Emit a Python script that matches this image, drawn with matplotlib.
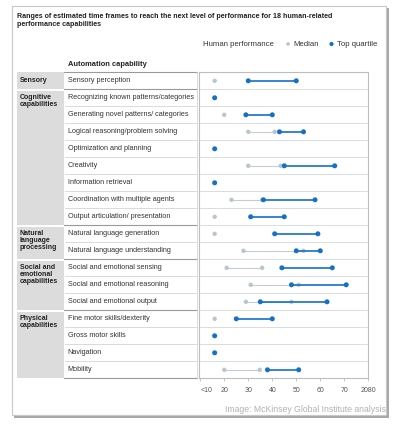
import matplotlib
matplotlib.use("Agg")
import matplotlib.pyplot as plt
from matplotlib.patches import Rectangle

# ---- data ----
capabilities = [
    "Sensory perception",
    "Recognizing known patterns/categories",
    "Generating novel patterns/ categories",
    "Logical reasoning/problem solving",
    "Optimization and planning",
    "Creativity",
    "Information retrieval",
    "Coordination with multiple agents",
    "Output articulation/ presentation",
    "Natural language generation",
    "Natural language understanding",
    "Social and emotional sensing",
    "Social and emotional reasoning",
    "Social and emotional output",
    "Fine motor skills/dexterity",
    "Gross motor skills",
    "Navigation",
    "Mobility",
]
groups = ["Sensory", "Cognitive\ncapabilities", "Natural\nlanguage\nprocessing",
          "Social and\nemotional\ncapabilities", "Physical\ncapabilities"]
group_sizes = [1, 8, 2, 3, 4]

# Median human performance: (start, end) or None
median_lo = [16, None, 20, 30, None, 30, None, 23, 16, 16, 28, 21, 31, 29, 16, None, None, 20]
median_hi = [16, None, 20, 41, None, 43.5, None, 35.8, 16, 16, 53, 35.8, 51, 48, 16, None, None, 34.8]
# Top quartile human performance
top_lo = [30, 16, 29, 43, 16, 45, 16, 36.3, 31, 41, 50, 44, 48, 35, 25, 16, 16, 38]
top_hi = [50, 16, 40, 53, 16, 66, 16, 57.8, 45, 59, 60, 65, 70.8, 62.8, 40, 16, 16, 51]

tick_vals = [10, 20, 30, 40, 50, 60, 70, 80]
tick_labels = ["<10", "20", "30", "40", "50", "60", "70", "2080"]

# ---- figure ----
W, H = 395, 424
fig = plt.figure(figsize=(W / 100, H / 100), dpi=100)
fig.patch.set_facecolor("white")
plt.rcParams["font.family"] = ["Liberation Sans", "DejaVu Sans"]

ov = fig.add_axes([0, 0, 1, 1], zorder=0)
ov.set_xlim(0, W)
ov.set_ylim(H, 0)
ov.axis("off")

# outer box with shadow
ov.add_patch(Rectangle((14, 8), 375, 410, facecolor="#a8a8a8", edgecolor="none"))
ov.add_patch(Rectangle((12, 6), 374, 409, facecolor="white", edgecolor="#c8c8c8", lw=0.8))

txt_dark = "#333333"
ov.text(17, 13, "Ranges of estimated time frames to reach the next level of performance for 18 human-related\nperformance capabilities",
        fontsize=5.1, color="#222222", va="top", ha="left", linespacing=1.15, fontweight="bold")

# legend
ov.text(203, 44, "Human performance", fontsize=5.6, color="#333333", va="center", ha="left")
ov.scatter([288], [44], s=7, color="#b8c6cf", zorder=3, edgecolors="none")
ov.text(293, 44, "Median", fontsize=5.6, color="#333333", va="center", ha="left")
ov.scatter([331.5], [44], s=9, color="#1570c8", zorder=3, edgecolors="none")
ov.text(337, 44, "Top quartile", fontsize=5.6, color="#333333", va="center", ha="left")

ov.text(68, 65, "Automation capability", fontsize=5.4, color="#222222", va="center", ha="left",
        fontweight="bold")

row_top = 72.3
row_h = 17.0
cat_x0, cat_x1 = 16.7, 64.3
lab_x0, lab_x1 = 64.3, 196.7

# category cells
start = 0
for g, n in zip(groups, group_sizes):
    y0 = row_top + start * row_h
    ov.add_patch(Rectangle((cat_x0, y0 + (1.2 if start else 0)), cat_x1 - cat_x0,
                           n * row_h - (1.2 if start else 0),
                           facecolor="#dcdcdc", edgecolor="none"))
    ov.text(cat_x0 + 3, y0 + 4.5, g, fontsize=5.0, fontweight="bold", color="#222222",
            va="top", ha="left", linespacing=1.05)
    start += n

# label rows
group_bounds = set()
acc = 0
for n in group_sizes:
    acc += n
    group_bounds.add(acc)
for i, lab in enumerate(capabilities):
    yc = row_top + (i + 0.5) * row_h
    ov.text(lab_x0 + 3.5, yc, lab, fontsize=5.2, color=txt_dark, va="center", ha="left")
ov.plot([lab_x0, lab_x1], [row_top, row_top], color="#9a9a9a", lw=0.8)
for i in range(1, len(capabilities) + 1):
    y = row_top + i * row_h
    if i in group_bounds:
        ov.plot([lab_x0, lab_x1], [y, y], color="#9a9a9a", lw=0.8)
    else:
        ov.plot([lab_x0 + 1, lab_x1], [y, y], color="#d4d4d4", lw=0.6)
ov.plot([lab_x1, lab_x1], [row_top, row_top + 18 * row_h], color="#d4d4d4", lw=0.6)

ov.text(386, 410, "Image: McKinsey Global Institute analysis", fontsize=6.2, color="#b0b0b0",
        va="center", ha="right")

# ---- plot axes ----
px0, px1 = 199.3, 368.3
py0, py1 = 72.3, 72.3 + 18 * row_h
ax = fig.add_axes([px0 / W, 1 - py1 / H, (px1 - px0) / W, (py1 - py0) / H], zorder=2)
ax.set_facecolor("white")
n = len(capabilities)
ax.set_xlim(9.6, 80)
ax.set_ylim(n, 0)
for s in ax.spines.values():
    s.set_color("#bdbdbd")
    s.set_linewidth(0.8)
for i in range(1, n):
    ax.axhline(i, color="#d6d6d6", lw=0.6, zorder=1)

gray = "#b8c6cf"
grayline = "#c3cdd3"
blue = "#1570c8"
for i in range(n):
    y = i + 0.5
    if median_lo[i] is not None:
        if median_hi[i] != median_lo[i]:
            ax.plot([median_lo[i], median_hi[i]], [y, y], color=grayline, lw=0.8, zorder=2)
            ax.scatter([median_lo[i], median_hi[i]], [y, y], s=10, color=gray, zorder=3,
                       edgecolors="none")
        else:
            ax.scatter([median_lo[i]], [y], s=10, color=gray, zorder=3, edgecolors="none")
    if top_hi[i] != top_lo[i]:
        ax.plot([top_lo[i], top_hi[i]], [y, y], color=blue, lw=1.2, zorder=4)
        ax.scatter([top_lo[i], top_hi[i]], [y, y], s=13, color=blue, zorder=5,
                   edgecolors="none")
    else:
        ax.scatter([top_lo[i]], [y], s=13, color=blue, zorder=5, edgecolors="none")

ax.set_yticks([])
ax.set_xticks(tick_vals)
ax.set_xticklabels(tick_labels)
ax.tick_params(axis="x", length=2, width=0.6, color="#bdbdbd", labelsize=5.0,
               labelcolor="#555555", pad=4)
ax.get_xticklabels()[0].set_ha("left")
ax.get_xticklabels()[0].set_x(10)

fig.savefig("out.png", dpi=100, facecolor="white")
